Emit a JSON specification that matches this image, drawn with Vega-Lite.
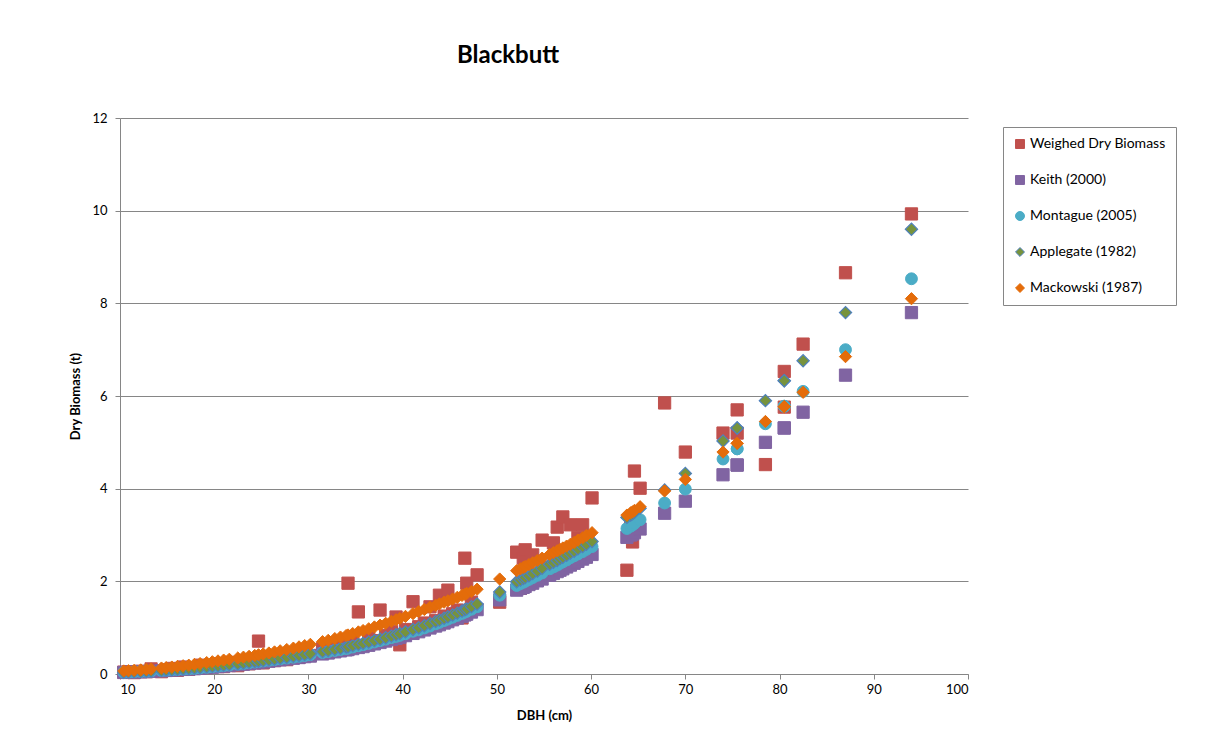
{
  "$schema": "https://vega.github.io/schema/vega-lite/v6.json",
  "width": 848,
  "height": 556,
  "autosize": {"type": "none"},
  "padding": {"left": 120, "top": 118, "right": 237, "bottom": 75},
  "background": "white",
  "title": {"text": "Blackbutt", "font": "Lato", "fontSize": 24, "fontWeight": "bold", "color": "#000000", "anchor": "middle", "dx": -36, "offset": 44},
  "config": {
    "view": {"stroke": null},
    "font": "Lato"
  },
  "data": {"values": [
    {"DBH": 10.4, "Weighed Dry Biomass": 0.04, "Keith (2000)": 0.033, "Montague (2005)": 0.038, "Applegate (1982)": 0.038, "Mackowski (1987)": 0.065},
    {"DBH": 10.9, "Weighed Dry Biomass": 0.05, "Keith (2000)": 0.037, "Montague (2005)": 0.042, "Applegate (1982)": 0.042, "Mackowski (1987)": 0.071},
    {"DBH": 11.5, "Weighed Dry Biomass": 0.03, "Keith (2000)": 0.041, "Montague (2005)": 0.046, "Applegate (1982)": 0.046, "Mackowski (1987)": 0.079},
    {"DBH": 12.2, "Weighed Dry Biomass": 0.06, "Keith (2000)": 0.047, "Montague (2005)": 0.052, "Applegate (1982)": 0.052, "Mackowski (1987)": 0.088},
    {"DBH": 12.8, "Weighed Dry Biomass": 0.05, "Keith (2000)": 0.053, "Montague (2005)": 0.058, "Applegate (1982)": 0.058, "Mackowski (1987)": 0.099},
    {"DBH": 13.3, "Weighed Dry Biomass": 0.11, "Keith (2000)": 0.058, "Montague (2005)": 0.063, "Applegate (1982)": 0.063, "Mackowski (1987)": 0.108},
    {"DBH": 14.4, "Weighed Dry Biomass": 0.05, "Keith (2000)": 0.07, "Montague (2005)": 0.075, "Applegate (1982)": 0.076, "Mackowski (1987)": 0.128},
    {"DBH": 14.9, "Weighed Dry Biomass": 0.09, "Keith (2000)": 0.076, "Montague (2005)": 0.081, "Applegate (1982)": 0.083, "Mackowski (1987)": 0.138},
    {"DBH": 15.5, "Weighed Dry Biomass": 0.12, "Keith (2000)": 0.084, "Montague (2005)": 0.089, "Applegate (1982)": 0.093, "Mackowski (1987)": 0.15},
    {"DBH": 16.1, "Weighed Dry Biomass": 0.08, "Keith (2000)": 0.091, "Montague (2005)": 0.096, "Applegate (1982)": 0.102, "Mackowski (1987)": 0.163},
    {"DBH": 16.7, "Weighed Dry Biomass": 0.15, "Keith (2000)": 0.099, "Montague (2005)": 0.104, "Applegate (1982)": 0.11, "Mackowski (1987)": 0.178},
    {"DBH": 17.3, "Weighed Dry Biomass": 0.1, "Keith (2000)": 0.107, "Montague (2005)": 0.11, "Applegate (1982)": 0.12, "Mackowski (1987)": 0.19},
    {"DBH": 17.9, "Weighed Dry Biomass": 0.13, "Keith (2000)": 0.114, "Montague (2005)": 0.119, "Applegate (1982)": 0.128, "Mackowski (1987)": 0.207},
    {"DBH": 18.5, "Weighed Dry Biomass": 0.19, "Keith (2000)": 0.124, "Montague (2005)": 0.13, "Applegate (1982)": 0.14, "Mackowski (1987)": 0.225},
    {"DBH": 19.2, "Weighed Dry Biomass": 0.14, "Keith (2000)": 0.136, "Montague (2005)": 0.144, "Applegate (1982)": 0.154, "Mackowski (1987)": 0.246},
    {"DBH": 19.8, "Weighed Dry Biomass": 0.17, "Keith (2000)": 0.146, "Montague (2005)": 0.156, "Applegate (1982)": 0.166, "Mackowski (1987)": 0.264},
    {"DBH": 20.4, "Weighed Dry Biomass": 0.22, "Keith (2000)": 0.158, "Montague (2005)": 0.168, "Applegate (1982)": 0.178, "Mackowski (1987)": 0.282},
    {"DBH": 21.0, "Weighed Dry Biomass": 0.16, "Keith (2000)": 0.17, "Montague (2005)": 0.18, "Applegate (1982)": 0.19, "Mackowski (1987)": 0.3},
    {"DBH": 21.6, "Weighed Dry Biomass": 0.25, "Keith (2000)": 0.182, "Montague (2005)": 0.192, "Applegate (1982)": 0.202, "Mackowski (1987)": 0.318},
    {"DBH": 22.5, "Weighed Dry Biomass": 0.18, "Keith (2000)": 0.2, "Montague (2005)": 0.212, "Applegate (1982)": 0.222, "Mackowski (1987)": 0.345},
    {"DBH": 23.1, "Weighed Dry Biomass": 0.27, "Keith (2000)": 0.21, "Montague (2005)": 0.227, "Applegate (1982)": 0.237, "Mackowski (1987)": 0.363},
    {"DBH": 23.7, "Weighed Dry Biomass": 0.22, "Keith (2000)": 0.225, "Montague (2005)": 0.242, "Applegate (1982)": 0.252, "Mackowski (1987)": 0.381},
    {"DBH": 24.3, "Weighed Dry Biomass": 0.28, "Keith (2000)": 0.237, "Montague (2005)": 0.257, "Applegate (1982)": 0.267, "Mackowski (1987)": 0.4},
    {"DBH": 24.7, "Weighed Dry Biomass": 0.71, "Keith (2000)": 0.247, "Montague (2005)": 0.267, "Applegate (1982)": 0.277, "Mackowski (1987)": 0.415},
    {"DBH": 25.2, "Weighed Dry Biomass": 0.24, "Keith (2000)": 0.26, "Montague (2005)": 0.28, "Applegate (1982)": 0.29, "Mackowski (1987)": 0.432},
    {"DBH": 25.8, "Weighed Dry Biomass": 0.33, "Keith (2000)": 0.275, "Montague (2005)": 0.295, "Applegate (1982)": 0.305, "Mackowski (1987)": 0.453},
    {"DBH": 26.4, "Weighed Dry Biomass": 0.29, "Keith (2000)": 0.29, "Montague (2005)": 0.31, "Applegate (1982)": 0.322, "Mackowski (1987)": 0.476},
    {"DBH": 27.0, "Weighed Dry Biomass": 0.37, "Keith (2000)": 0.305, "Montague (2005)": 0.325, "Applegate (1982)": 0.34, "Mackowski (1987)": 0.5},
    {"DBH": 27.7, "Weighed Dry Biomass": 0.31, "Keith (2000)": 0.323, "Montague (2005)": 0.343, "Applegate (1982)": 0.361, "Mackowski (1987)": 0.528},
    {"DBH": 28.4, "Weighed Dry Biomass": 0.43, "Keith (2000)": 0.34, "Montague (2005)": 0.362, "Applegate (1982)": 0.382, "Mackowski (1987)": 0.558},
    {"DBH": 29.0, "Weighed Dry Biomass": 0.36, "Keith (2000)": 0.355, "Montague (2005)": 0.38, "Applegate (1982)": 0.4, "Mackowski (1987)": 0.585},
    {"DBH": 29.6, "Weighed Dry Biomass": 0.45, "Keith (2000)": 0.374, "Montague (2005)": 0.398, "Applegate (1982)": 0.418, "Mackowski (1987)": 0.612},
    {"DBH": 30.2, "Weighed Dry Biomass": 0.4, "Keith (2000)": 0.387, "Montague (2005)": 0.417, "Applegate (1982)": 0.437, "Mackowski (1987)": 0.64},
    {"DBH": 31.5, "Weighed Dry Biomass": 0.55, "Keith (2000)": 0.433, "Montague (2005)": 0.463, "Applegate (1982)": 0.483, "Mackowski (1987)": 0.698},
    {"DBH": 32.1, "Weighed Dry Biomass": 0.47, "Keith (2000)": 0.453, "Montague (2005)": 0.483, "Applegate (1982)": 0.504, "Mackowski (1987)": 0.726},
    {"DBH": 32.8, "Weighed Dry Biomass": 0.6, "Keith (2000)": 0.478, "Montague (2005)": 0.508, "Applegate (1982)": 0.532, "Mackowski (1987)": 0.764},
    {"DBH": 33.4, "Weighed Dry Biomass": 0.52, "Keith (2000)": 0.499, "Montague (2005)": 0.529, "Applegate (1982)": 0.556, "Mackowski (1987)": 0.797},
    {"DBH": 34.0, "Weighed Dry Biomass": 0.66, "Keith (2000)": 0.52, "Montague (2005)": 0.55, "Applegate (1982)": 0.58, "Mackowski (1987)": 0.83},
    {"DBH": 34.2, "Weighed Dry Biomass": 1.96, "Keith (2000)": 0.528, "Montague (2005)": 0.559, "Applegate (1982)": 0.589, "Mackowski (1987)": 0.842},
    {"DBH": 34.7, "Weighed Dry Biomass": 0.7, "Keith (2000)": 0.548, "Montague (2005)": 0.582, "Applegate (1982)": 0.612, "Mackowski (1987)": 0.872},
    {"DBH": 35.3, "Weighed Dry Biomass": 1.34, "Keith (2000)": 0.572, "Montague (2005)": 0.609, "Applegate (1982)": 0.639, "Mackowski (1987)": 0.908},
    {"DBH": 35.8, "Weighed Dry Biomass": 0.62, "Keith (2000)": 0.592, "Montague (2005)": 0.631, "Applegate (1982)": 0.661, "Mackowski (1987)": 0.938},
    {"DBH": 36.4, "Weighed Dry Biomass": 0.78, "Keith (2000)": 0.62, "Montague (2005)": 0.66, "Applegate (1982)": 0.69, "Mackowski (1987)": 0.976},
    {"DBH": 37.0, "Weighed Dry Biomass": 0.72, "Keith (2000)": 0.65, "Montague (2005)": 0.69, "Applegate (1982)": 0.72, "Mackowski (1987)": 1.015},
    {"DBH": 37.6, "Weighed Dry Biomass": 1.38, "Keith (2000)": 0.68, "Montague (2005)": 0.72, "Applegate (1982)": 0.75, "Mackowski (1987)": 1.054},
    {"DBH": 38.2, "Weighed Dry Biomass": 0.83, "Keith (2000)": 0.711, "Montague (2005)": 0.751, "Applegate (1982)": 0.782, "Mackowski (1987)": 1.094},
    {"DBH": 38.8, "Weighed Dry Biomass": 0.92, "Keith (2000)": 0.744, "Montague (2005)": 0.784, "Applegate (1982)": 0.818, "Mackowski (1987)": 1.136},
    {"DBH": 39.3, "Weighed Dry Biomass": 1.23, "Keith (2000)": 0.771, "Montague (2005)": 0.811, "Applegate (1982)": 0.848, "Mackowski (1987)": 1.171},
    {"DBH": 39.7, "Weighed Dry Biomass": 0.63, "Keith (2000)": 0.793, "Montague (2005)": 0.833, "Applegate (1982)": 0.872, "Mackowski (1987)": 1.199},
    {"DBH": 40.3, "Weighed Dry Biomass": 0.96, "Keith (2000)": 0.828, "Montague (2005)": 0.868, "Applegate (1982)": 0.91, "Mackowski (1987)": 1.243},
    {"DBH": 41.1, "Weighed Dry Biomass": 1.56, "Keith (2000)": 0.876, "Montague (2005)": 0.922, "Applegate (1982)": 0.962, "Mackowski (1987)": 1.303},
    {"DBH": 41.7, "Weighed Dry Biomass": 1.02, "Keith (2000)": 0.912, "Montague (2005)": 0.952, "Applegate (1982)": 1.0, "Mackowski (1987)": 1.348},
    {"DBH": 42.3, "Weighed Dry Biomass": 1.1, "Keith (2000)": 0.951, "Montague (2005)": 0.993, "Applegate (1982)": 1.043, "Mackowski (1987)": 1.393},
    {"DBH": 42.9, "Weighed Dry Biomass": 1.45, "Keith (2000)": 0.993, "Montague (2005)": 1.035, "Applegate (1982)": 1.088, "Mackowski (1987)": 1.438},
    {"DBH": 43.5, "Weighed Dry Biomass": 1.15, "Keith (2000)": 1.035, "Montague (2005)": 1.083, "Applegate (1982)": 1.133, "Mackowski (1987)": 1.483},
    {"DBH": 43.9, "Weighed Dry Biomass": 1.7, "Keith (2000)": 1.063, "Montague (2005)": 1.113, "Applegate (1982)": 1.163, "Mackowski (1987)": 1.513},
    {"DBH": 44.4, "Weighed Dry Biomass": 1.25, "Keith (2000)": 1.1, "Montague (2005)": 1.152, "Applegate (1982)": 1.202, "Mackowski (1987)": 1.55},
    {"DBH": 44.8, "Weighed Dry Biomass": 1.81, "Keith (2000)": 1.13, "Montague (2005)": 1.184, "Applegate (1982)": 1.234, "Mackowski (1987)": 1.58},
    {"DBH": 45.3, "Weighed Dry Biomass": 1.3, "Keith (2000)": 1.17, "Montague (2005)": 1.224, "Applegate (1982)": 1.274, "Mackowski (1987)": 1.618},
    {"DBH": 45.8, "Weighed Dry Biomass": 1.38, "Keith (2000)": 1.205, "Montague (2005)": 1.264, "Applegate (1982)": 1.314, "Mackowski (1987)": 1.655},
    {"DBH": 46.3, "Weighed Dry Biomass": 1.21, "Keith (2000)": 1.247, "Montague (2005)": 1.307, "Applegate (1982)": 1.359, "Mackowski (1987)": 1.696},
    {"DBH": 46.6, "Weighed Dry Biomass": 2.5, "Keith (2000)": 1.274, "Montague (2005)": 1.334, "Applegate (1982)": 1.387, "Mackowski (1987)": 1.721},
    {"DBH": 46.8, "Weighed Dry Biomass": 1.96, "Keith (2000)": 1.292, "Montague (2005)": 1.352, "Applegate (1982)": 1.406, "Mackowski (1987)": 1.738},
    {"DBH": 47.3, "Weighed Dry Biomass": 1.55, "Keith (2000)": 1.337, "Montague (2005)": 1.397, "Applegate (1982)": 1.454, "Mackowski (1987)": 1.78},
    {"DBH": 47.9, "Weighed Dry Biomass": 2.14, "Keith (2000)": 1.39, "Montague (2005)": 1.45, "Applegate (1982)": 1.51, "Mackowski (1987)": 1.83},
    {"DBH": 50.3, "Weighed Dry Biomass": 1.55, "Keith (2000)": 1.6, "Montague (2005)": 1.7, "Applegate (1982)": 1.77, "Mackowski (1987)": 2.05},
    {"DBH": 52.1, "Weighed Dry Biomass": 2.63, "Keith (2000)": 1.81, "Montague (2005)": 1.91, "Applegate (1982)": 1.99, "Mackowski (1987)": 2.23},
    {"DBH": 52.5, "Weighed Dry Biomass": 1.85, "Keith (2000)": 1.85, "Montague (2005)": 1.95, "Applegate (1982)": 2.03, "Mackowski (1987)": 2.27},
    {"DBH": 52.8, "Weighed Dry Biomass": 2.5, "Keith (2000)": 1.87, "Montague (2005)": 1.98, "Applegate (1982)": 2.06, "Mackowski (1987)": 2.3},
    {"DBH": 53.0, "Weighed Dry Biomass": 2.68, "Keith (2000)": 1.89, "Montague (2005)": 2.0, "Applegate (1982)": 2.08, "Mackowski (1987)": 2.32},
    {"DBH": 53.4, "Weighed Dry Biomass": 1.95, "Keith (2000)": 1.93, "Montague (2005)": 2.04, "Applegate (1982)": 2.12, "Mackowski (1987)": 2.36},
    {"DBH": 53.8, "Weighed Dry Biomass": 2.57, "Keith (2000)": 1.96, "Montague (2005)": 2.08, "Applegate (1982)": 2.17, "Mackowski (1987)": 2.4},
    {"DBH": 54.3, "Weighed Dry Biomass": 2.1, "Keith (2000)": 2.01, "Montague (2005)": 2.13, "Applegate (1982)": 2.22, "Mackowski (1987)": 2.45},
    {"DBH": 54.8, "Weighed Dry Biomass": 2.89, "Keith (2000)": 2.05, "Montague (2005)": 2.18, "Applegate (1982)": 2.28, "Mackowski (1987)": 2.5},
    {"DBH": 55.6, "Weighed Dry Biomass": 2.3, "Keith (2000)": 2.13, "Montague (2005)": 2.27, "Applegate (1982)": 2.37, "Mackowski (1987)": 2.58},
    {"DBH": 56.0, "Weighed Dry Biomass": 2.83, "Keith (2000)": 2.17, "Montague (2005)": 2.31, "Applegate (1982)": 2.41, "Mackowski (1987)": 2.62},
    {"DBH": 56.4, "Weighed Dry Biomass": 3.17, "Keith (2000)": 2.21, "Montague (2005)": 2.35, "Applegate (1982)": 2.45, "Mackowski (1987)": 2.66},
    {"DBH": 56.7, "Weighed Dry Biomass": 2.4, "Keith (2000)": 2.24, "Montague (2005)": 2.39, "Applegate (1982)": 2.49, "Mackowski (1987)": 2.69},
    {"DBH": 57.0, "Weighed Dry Biomass": 3.39, "Keith (2000)": 2.27, "Montague (2005)": 2.42, "Applegate (1982)": 2.52, "Mackowski (1987)": 2.72},
    {"DBH": 57.4, "Weighed Dry Biomass": 2.5, "Keith (2000)": 2.31, "Montague (2005)": 2.46, "Applegate (1982)": 2.56, "Mackowski (1987)": 2.76},
    {"DBH": 57.8, "Weighed Dry Biomass": 3.22, "Keith (2000)": 2.35, "Montague (2005)": 2.51, "Applegate (1982)": 2.61, "Mackowski (1987)": 2.8},
    {"DBH": 58.2, "Weighed Dry Biomass": 2.6, "Keith (2000)": 2.39, "Montague (2005)": 2.55, "Applegate (1982)": 2.65, "Mackowski (1987)": 2.84},
    {"DBH": 58.6, "Weighed Dry Biomass": 2.95, "Keith (2000)": 2.43, "Montague (2005)": 2.59, "Applegate (1982)": 2.7, "Mackowski (1987)": 2.89},
    {"DBH": 59.1, "Weighed Dry Biomass": 3.22, "Keith (2000)": 2.48, "Montague (2005)": 2.64, "Applegate (1982)": 2.75, "Mackowski (1987)": 2.94},
    {"DBH": 59.5, "Weighed Dry Biomass": 2.75, "Keith (2000)": 2.52, "Montague (2005)": 2.69, "Applegate (1982)": 2.8, "Mackowski (1987)": 2.99},
    {"DBH": 60.1, "Weighed Dry Biomass": 3.8, "Keith (2000)": 2.58, "Montague (2005)": 2.75, "Applegate (1982)": 2.86, "Mackowski (1987)": 3.05},
    {"DBH": 63.8, "Weighed Dry Biomass": 2.24, "Keith (2000)": 2.95, "Montague (2005)": 3.14, "Applegate (1982)": 3.38, "Mackowski (1987)": 3.43},
    {"DBH": 64.2, "Weighed Dry Biomass": 3.2, "Keith (2000)": 3.0, "Montague (2005)": 3.19, "Applegate (1982)": 3.43, "Mackowski (1987)": 3.48},
    {"DBH": 64.4, "Weighed Dry Biomass": 2.85, "Keith (2000)": 3.02, "Montague (2005)": 3.22, "Applegate (1982)": 3.46, "Mackowski (1987)": 3.5},
    {"DBH": 64.6, "Weighed Dry Biomass": 4.38, "Keith (2000)": 3.05, "Montague (2005)": 3.25, "Applegate (1982)": 3.49, "Mackowski (1987)": 3.53},
    {"DBH": 65.2, "Weighed Dry Biomass": 4.01, "Keith (2000)": 3.13, "Montague (2005)": 3.33, "Applegate (1982)": 3.58, "Mackowski (1987)": 3.61},
    {"DBH": 67.8, "Weighed Dry Biomass": 5.85, "Keith (2000)": 3.47, "Montague (2005)": 3.69, "Applegate (1982)": 3.97, "Mackowski (1987)": 3.95},
    {"DBH": 70.0, "Weighed Dry Biomass": 4.79, "Keith (2000)": 3.73, "Montague (2005)": 3.99, "Applegate (1982)": 4.33, "Mackowski (1987)": 4.2},
    {"DBH": 74.0, "Weighed Dry Biomass": 5.2, "Keith (2000)": 4.3, "Montague (2005)": 4.64, "Applegate (1982)": 5.03, "Mackowski (1987)": 4.79},
    {"DBH": 75.5, "Weighed Dry Biomass": 5.7, "Keith (2000)": 4.51, "Montague (2005)": 4.86, "Applegate (1982)": 5.31, "Mackowski (1987)": 4.98},
    {"DBH": 75.5, "Weighed Dry Biomass": 5.2, "Keith (2000)": 4.51, "Montague (2005)": 4.86, "Applegate (1982)": 5.31, "Mackowski (1987)": 4.98},
    {"DBH": 78.5, "Weighed Dry Biomass": 4.52, "Keith (2000)": 5.0, "Montague (2005)": 5.4, "Applegate (1982)": 5.9, "Mackowski (1987)": 5.45},
    {"DBH": 80.5, "Weighed Dry Biomass": 6.53, "Keith (2000)": 5.31, "Montague (2005)": 5.78, "Applegate (1982)": 6.33, "Mackowski (1987)": 5.77},
    {"DBH": 80.5, "Weighed Dry Biomass": 5.76, "Keith (2000)": 5.31, "Montague (2005)": 5.78, "Applegate (1982)": 6.33, "Mackowski (1987)": 5.77},
    {"DBH": 82.5, "Weighed Dry Biomass": 7.12, "Keith (2000)": 5.65, "Montague (2005)": 6.1, "Applegate (1982)": 6.76, "Mackowski (1987)": 6.08},
    {"DBH": 87.0, "Weighed Dry Biomass": 8.66, "Keith (2000)": 6.45, "Montague (2005)": 7.0, "Applegate (1982)": 7.8, "Mackowski (1987)": 6.85},
    {"DBH": 94.0, "Weighed Dry Biomass": 9.93, "Keith (2000)": 7.8, "Montague (2005)": 8.53, "Applegate (1982)": 9.6, "Mackowski (1987)": 8.1}
  ]},
  "encoding": {
    "x": {"field": "DBH", "type": "quantitative", "scale": {"domain": [10, 100], "nice": false, "zero": false},
      "axis": {"title": "DBH (cm)", "values": [10, 20, 30, 40, 50, 60, 70, 80, 90, 100], "grid": false, "domainColor": "#868686", "tickColor": "#868686", "tickSize": 5, "labelFont": "Lato", "labelFontSize": 13, "labelColor": "#000000", "labelPadding": 4, "titleFont": "Lato", "titleFontSize": 13, "titleFontWeight": "bold", "titleColor": "#000000", "titlePadding": 13}},
    "y": {"field": "value", "type": "quantitative", "scale": {"domain": [0, 12], "nice": false},
      "axis": {"title": "Dry Biomass (t)", "values": [0, 2, 4, 6, 8, 10, 12], "grid": true, "gridColor": "#868686", "gridWidth": 1, "domainColor": "#868686", "tickColor": "#868686", "tickSize": 5, "labelFont": "Lato", "labelFontSize": 13, "labelColor": "#000000", "labelPadding": 8, "titleFont": "Lato", "titleFontSize": 13, "titleFontWeight": "bold", "titleColor": "#000000", "titlePadding": 9}},
    "fill": {"field": "series", "type": "nominal", "title": null,
      "scale": {"domain": ["Weighed Dry Biomass", "Keith (2000)", "Montague (2005)", "Applegate (1982)", "Mackowski (1987)"], "range": ["#C0504D", "#8064A2", "#4BACC6", "#77933C", "#E46C0A"]},
      "legend": {"orient": "none", "legendX": 883, "legendY": 9, "padding": 10, "strokeColor": "#868686", "fillColor": "white", "rowPadding": 22, "symbolSize": 80, "symbolStrokeWidth": 1, "labelFont": "Lato", "labelFontSize": 14, "labelColor": "#000000", "labelOffset": 3, "labelLimit": 300}},
    "stroke": {"field": "series", "type": "nominal", "title": null,
      "scale": {"domain": ["Weighed Dry Biomass", "Keith (2000)", "Montague (2005)", "Applegate (1982)", "Mackowski (1987)"], "range": ["#C0504D", "#8064A2", "#4BACC6", "#4F81BD", "#E46C0A"]}},
    "shape": {"field": "series", "type": "nominal", "title": null,
      "scale": {"domain": ["Weighed Dry Biomass", "Keith (2000)", "Montague (2005)", "Applegate (1982)", "Mackowski (1987)"], "range": ["square", "square", "circle", "diamond", "diamond"]}}
  },
  "layer": [
    {"transform": [{"fold": ["Weighed Dry Biomass"], "as": ["series", "value"]}], "mark": {"type": "point", "filled": true, "opacity": 1, "size": 150, "strokeWidth": 1}},
    {"transform": [{"fold": ["Keith (2000)"], "as": ["series", "value"]}], "mark": {"type": "point", "filled": true, "opacity": 1, "size": 150, "strokeWidth": 1}},
    {"transform": [{"fold": ["Montague (2005)"], "as": ["series", "value"]}], "mark": {"type": "point", "filled": true, "opacity": 1, "size": 140, "strokeWidth": 1}},
    {"transform": [{"fold": ["Applegate (1982)"], "as": ["series", "value"]}], "mark": {"type": "point", "filled": true, "opacity": 1, "size": 150, "strokeWidth": 1.2}},
    {"transform": [{"fold": ["Mackowski (1987)"], "as": ["series", "value"]}], "mark": {"type": "point", "filled": true, "opacity": 1, "size": 150, "strokeWidth": 1}}
  ]
}
